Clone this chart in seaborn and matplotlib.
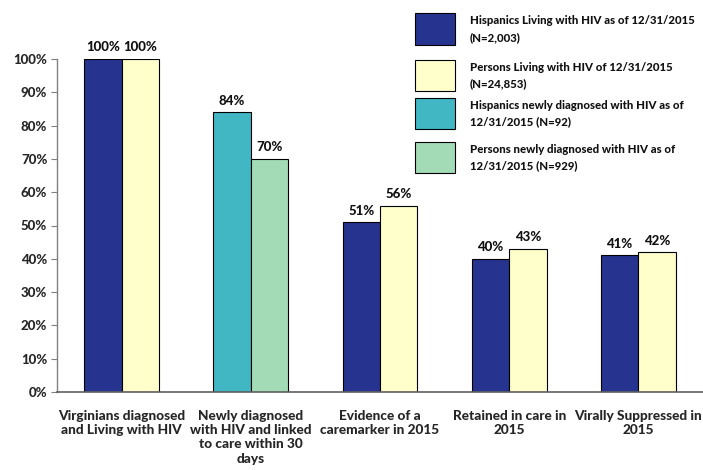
import matplotlib
matplotlib.use("Agg")
import matplotlib.pyplot as plt
import seaborn as sns
import pandas as pd
from matplotlib.patches import Rectangle

categories = [
    "Virginians diagnosed\nand Living with HIV",
    "Newly diagnosed\nwith HIV and linked\nto care within 30\ndays",
    "Evidence of a\ncaremarker in 2015",
    "Retained in care in\n2015",
    "Virally Suppressed in\n2015",
]
hispanic_values = [100, 84, 51, 40, 41]
persons_values = [100, 70, 56, 43, 42]
series_names = ["Hispanics", "Persons"]
legend_labels = [
    "Hispanics Living with HIV as of 12/31/2015\n(N=2,003)",
    "Persons Living with HIV of 12/31/2015\n(N=24,853)",
    "Hispanics newly diagnosed with HIV as of\n12/31/2015 (N=92)",
    "Persons newly diagnosed with HIV as of\n12/31/2015 (N=929)",
]
yticks = [0, 10, 20, 30, 40, 50, 60, 70, 80, 90, 100]

c_blue = "#27348F"
c_yellow = "#FFFFCC"
c_teal = "#41B7C4"
c_green = "#A3DBB7"

W_ = "black"

sns.set_theme(style="white")
plt.rcParams["font.family"] = ["Lato", "DejaVu Sans"]
plt.rcParams["font.weight"] = W_
plt.rcParams["text.color"] = "#111111"

df = pd.DataFrame({
    "category": categories * 2,
    "series": [series_names[0]] * len(categories) + [series_names[1]] * len(categories),
    "value": hispanic_values + persons_values,
})

fig = plt.figure(figsize=(7.03, 4.70), dpi=100)
ax = fig.add_axes([57 / 703, 1 - 392 / 470, 1 - 57 / 703, (392 - 59) / 470])

sns.barplot(data=df, x="category", y="value", hue="series", order=categories,
            hue_order=series_names, palette=[c_blue, c_yellow], width=0.58,
            edgecolor="black", linewidth=0.8, saturation=1, ax=ax, legend=False, errorbar=None)

# recolor the "newly diagnosed" group
for cont, col in zip(ax.containers, [c_teal, c_green]):
    cont.patches[1].set_facecolor(col)

for cont, vals in zip(ax.containers, [hispanic_values, persons_values]):
    ax.bar_label(cont, labels=[f"{v}%" for v in vals], padding=4,
                 fontsize=9.5, fontweight=W_, clip_on=False)

ax.set_ylim(0, 100)
ax.set_xlim(-0.5, len(categories) - 0.5)
ax.set_yticks(yticks)
ax.set_yticklabels([f"{t}%" for t in yticks], fontsize=9.5, fontweight=W_)
ax.tick_params(axis="y", left=True, length=4, width=0.8, color="#808080", pad=3)
ax.tick_params(axis="x", bottom=False, labelsize=9.8, pad=7)
for lab in ax.get_xticklabels():
    lab.set_fontweight(W_)
    lab.set_linespacing(1.22)
ax.set_xlabel("")
ax.set_ylabel("")
for s in ["top", "right"]:
    ax.spines[s].set_visible(False)
ax.spines["left"].set_color("#808080")
ax.spines["bottom"].set_color("#606060")
ax.spines["left"].set_linewidth(1)
ax.spines["bottom"].set_linewidth(1.2)

# legend drawn as figure patches
W, H = 703, 470
boxes = [(13, 45), (60, 91), (98, 129), (142, 173)]
cols = [c_blue, c_yellow, c_teal, c_green]
for (y0, y1), col, lab in zip(boxes, cols, legend_labels):
    fig.add_artist(Rectangle((415 / W, 1 - y1 / H), 40 / W, (y1 - y0) / H,
                             transform=fig.transFigure, facecolor=col,
                             edgecolor="black", linewidth=0.8))
    fig.text(470 / W, 1 - ((y0 + y1) / 2) / H, lab, fontsize=8.2, fontweight=W_,
             va="center", ha="left", linespacing=1.6)

fig.savefig("out.png", dpi=100)
